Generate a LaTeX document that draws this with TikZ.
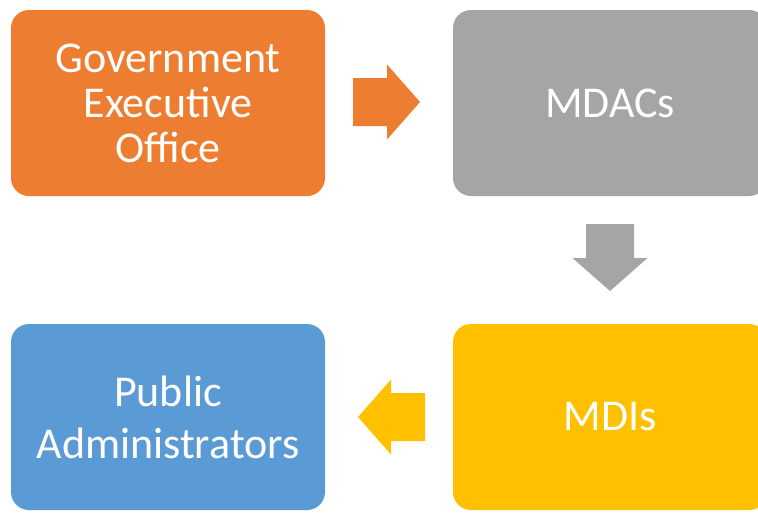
\documentclass[tikz,border=0pt]{standalone}
\usepackage{fontspec}
\setmainfont{Carlito}
\definecolor{govorange}{HTML}{ED7D31}
\definecolor{mdacgray}{HTML}{A5A5A5}
\definecolor{mdigold}{HTML}{FFC000}
\definecolor{pubblue}{HTML}{5B9BD5}
\tikzset{
  stagebox/.style={rectangle, rounded corners=18pt, minimum width=314pt,
    minimum height=186pt, inner sep=0pt, text=white, align=center,
    font=\fontsize{44}{45}\selectfont},
  blockarrow/.pic={
    \fill (0,-24) -- (34,-24) -- (34,-37.5) -- (67,0) -- (34,37.5) -- (34,24) -- (0,24) -- cycle;
  }
}
\begin{document}
\begin{tikzpicture}[x=1pt,y=-1pt]
  \useasboundingbox (0,0) rectangle (758,512);

  % the four stages
  \node[stagebox, fill=govorange] (gov) at (168,103) {Government\\Executive\\Office};
  \node[stagebox, fill=mdacgray] (mdacs) at (610,103) {MDACs};
  \node[stagebox, fill=mdigold] (mdis) at (610,417) {MDIs};
  \node[stagebox, fill=pubblue, font=\fontsize{44}{52}\selectfont] (public) at (168,417) {Public\\Administrators};

  % block arrows between them
  \pic[fill=govorange] at (353,102) {blockarrow};
  \pic[fill=mdacgray, rotate=-90] at (610,224) {blockarrow};
  \pic[fill=mdigold, rotate=180] at (425,417) {blockarrow};
\end{tikzpicture}
\end{document}
